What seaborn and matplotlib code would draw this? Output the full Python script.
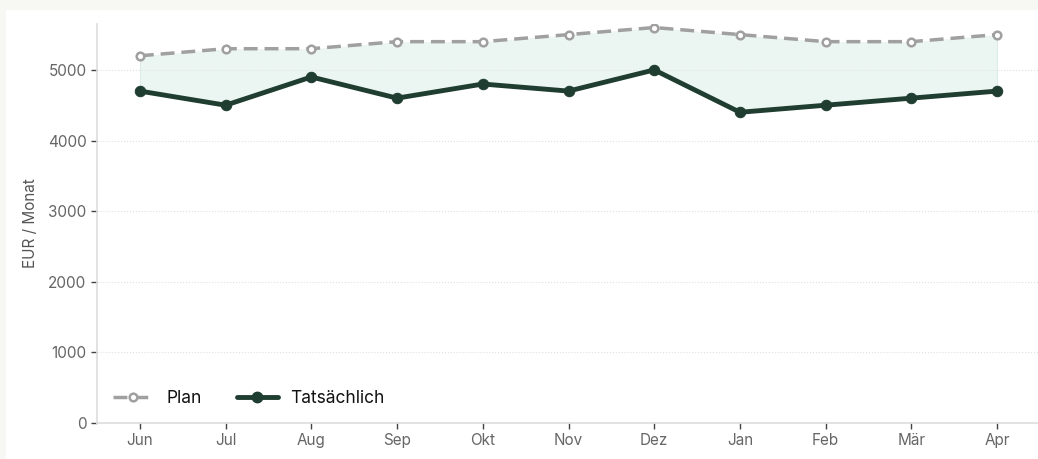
import matplotlib
matplotlib.use("Agg")
import matplotlib.pyplot as plt
import seaborn as sns
import pandas as pd
from matplotlib.patches import Rectangle
from matplotlib.lines import Line2D

months = ["Jun", "Jul", "Aug", "Sep", "Okt", "Nov", "Dez", "Jan", "Feb", "Mär", "Apr"]
plan = [5200, 5300, 5300, 5400, 5400, 5500, 5600, 5500, 5400, 5400, 5500]
actual = [4700, 4500, 4900, 4600, 4800, 4700, 5000, 4400, 4500, 4600, 4700]
yticks = [0, 1000, 2000, 3000, 4000, 5000]

sns.set_theme(style="white")
plt.rcParams['font.family'] = ['Inter', 'DejaVu Sans']

df = pd.DataFrame({"x": list(range(len(months))), "month": months, "Plan": plan, "Tatsächlich": actual})

W, H = 1038, 459
fig = plt.figure(figsize=(W / 100, H / 100), dpi=100)
fig.patch.set_facecolor("#f7f8f3")
fig.patches.append(Rectangle((6 / W, 0), 1 - 6 / W, (H - 10) / H, transform=fig.transFigure,
                             facecolor="white", edgecolor="none", zorder=-10))

ax = fig.add_axes([97 / W, (H - 423) / H, (1040 - 97) / W, (423 - 24) / H])
ax.set_zorder(1)
ax.set_facecolor("none")

plan_c = "#a0a0a0"
act_c = "#1f3d31"

ax.fill_between(df["x"], df["Tatsächlich"], df["Plan"], color="#dcede6", alpha=0.55, lw=0, zorder=1)
ax.plot([df["x"].iloc[0]] * 2, [actual[0], plan[0]], color="#dcede6", lw=0.8, zorder=1)
ax.plot([df["x"].iloc[-1]] * 2, [actual[-1], plan[-1]], color="#dcede6", lw=0.8, zorder=1)

sns.lineplot(data=df, x="x", y="Plan", ax=ax, color=plan_c, lw=2.5, linestyle=(0, (4, 2)),
             marker="o", markersize=5.5, markerfacecolor="white", markeredgecolor=plan_c,
             markeredgewidth=1.8, zorder=3)
sns.lineplot(data=df, x="x", y="Tatsächlich", ax=ax, color=act_c, lw=3.5,
             marker="o", markersize=7.5, markeredgecolor=act_c, markerfacecolor=act_c, zorder=4)

ax.set_xlim(-0.5, len(months) - 0.5)
ax.set_ylim(0, 5650)
ax.set_xticks(range(len(months)))
ax.set_xticklabels(months)
ax.set_yticks(yticks)
ax.set_xlabel("")
ax.set_ylabel("EUR / Monat", color="#555555", fontsize=11, labelpad=7)

for s in ["top", "right"]:
    ax.spines[s].set_visible(False)
for s in ["left", "bottom"]:
    ax.spines[s].set_color("#dddddd")
    ax.spines[s].set_linewidth(1.2)

ax.tick_params(axis="both", colors="#666666", labelsize=11, length=4, width=1, color="#444444",
               bottom=True, left=True)
ax.grid(axis="y", linestyle=":", color="#e0e0e0", lw=0.8)
ax.set_axisbelow(True)

handles = [
    Line2D([], [], color=plan_c, lw=2.5, linestyle=(0, (4, 2)), marker="o", markersize=5.5,
           markerfacecolor="white", markeredgecolor=plan_c, markeredgewidth=1.8),
    Line2D([], [], color=act_c, lw=3.5, marker="o", markersize=7.5, markerfacecolor=act_c),
]
leg = ax.legend(handles, ["Plan", "Tatsächlich"], loc="lower left", ncol=2, frameon=False,
                fontsize=12.5, handlelength=2.4, handletextpad=0.7, columnspacing=2.0,
                bbox_to_anchor=(0.0, 0.0))
for t in leg.get_texts():
    t.set_color("#111111")

fig.savefig("out.png", dpi=100, facecolor=fig.get_facecolor())
